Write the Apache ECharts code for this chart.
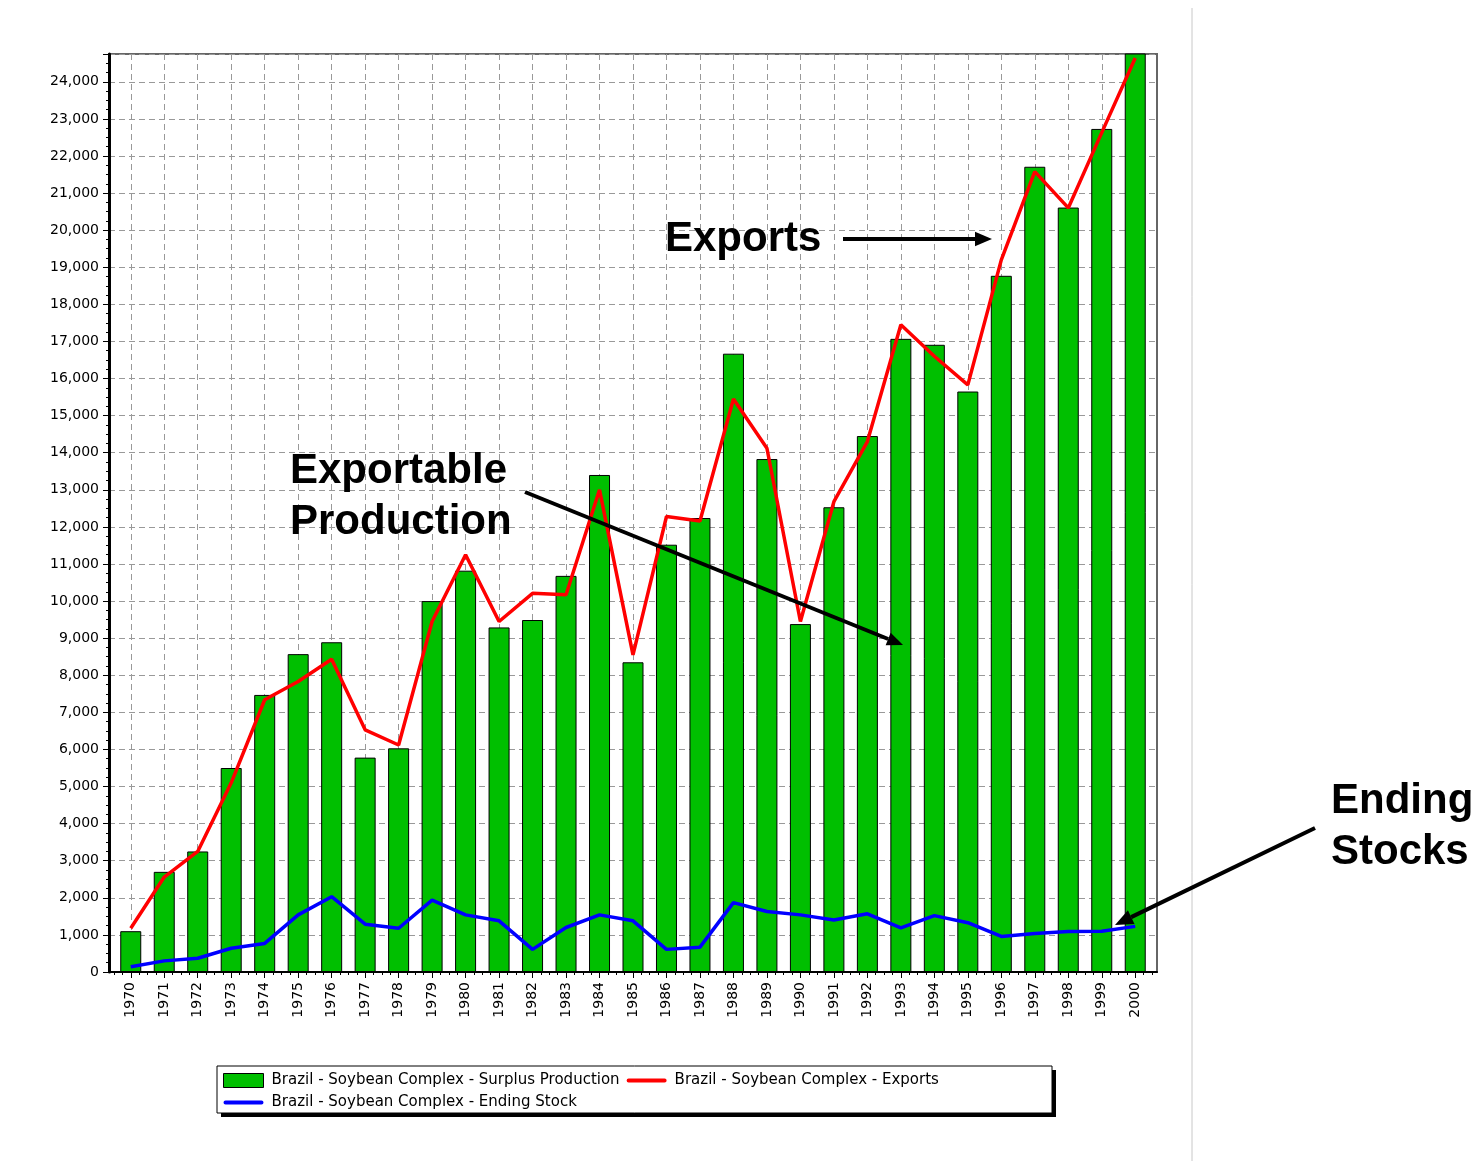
<!DOCTYPE html>
<html>
<head>
<meta charset="utf-8">
<title>Brazil - Soybean Complex</title>
<script src="https://cdn.jsdelivr.net/npm/echarts@6/dist/echarts.min.js"></script>
<style>
html, body { margin: 0; padding: 0; background: #fff; }
#chart { width: 1481px; height: 1161px; }
</style>
</head>
<body>
<div id="chart"></div>
<script>
// data (thousand tonnes)
var years = [1970, 1971, 1972, 1973, 1974, 1975, 1976, 1977, 1978, 1979,
  1980, 1981, 1982, 1983, 1984, 1985, 1986, 1987, 1988, 1989,
  1990, 1991, 1992, 1993, 1994, 1995, 1996, 1997, 1998, 1999, 2000];
var surplusProduction = [1100, 2700, 3250, 5500, 7470, 8570, 8890, 5780, 6030, 10000,
  10820, 9290, 9490, 10680, 13400, 8350, 11520, 12240, 16670, 13830,
  9380, 12530, 14450, 17070, 16910, 15650, 18770, 21710, 20610, 22730, 25000];
var exportsData = [1180, 2560, 3250, 5100, 7340, 7830, 8430, 6530, 6120, 9450,
  11250, 9450, 10210, 10170, 13000, 8550, 12280, 12160, 15450, 14120,
  9450, 12680, 14300, 17450, 16600, 15830, 19200, 21580, 20600, 22630, 24640];
var endingStock = [140, 300, 370, 640, 770, 1540, 2030, 1290, 1180, 1940,
  1540, 1380, 610, 1200, 1540, 1380, 610, 670, 1870, 1630,
  1540, 1400, 1570, 1190, 1520, 1330, 960, 1040, 1090, 1100, 1230];
var seriesNames = [
  "Brazil - Soybean Complex - Surplus Production",
  "Brazil - Soybean Complex - Exports",
  "Brazil - Soybean Complex - Ending Stock"
];

function pairs(vals) {
  return years.map(function (y, i) { return [y, vals[i]]; });
}

// small ticks every quarter year along the bottom axis
var quarterTicks = [];
years.forEach(function (y) {
  quarterTicks.push(y - 0.5, y - 0.25, y + 0.25);
});
quarterTicks.push(2000.5);

// 箭头：直线 + 三角形
function arrow(x1, y1, x2, y2, w, head) {
  var ang = Math.atan2(y2 - y1, x2 - x1);
  var bx = x2 - head * Math.cos(ang), by = y2 - head * Math.sin(ang);
  var px = Math.sin(ang) * head * 0.42, py = -Math.cos(ang) * head * 0.42;
  return [
    { type: "line", z: 100, shape: { x1: x1, y1: y1, x2: bx, y2: by },
      style: { stroke: "#000", lineWidth: w } },
    { type: "polygon", z: 100, shape: { points: [[x2, y2], [bx + px, by + py], [bx - px, by - py]] },
      style: { fill: "#000" } }
  ];
}

function label(txt, x, y) {
  return { type: "text", z: 100, left: x, top: y,
    style: { text: txt, font: "bold 42px 'Liberation Sans', Arial", fill: "#000", lineHeight: 51 } };
}

// legend icon for the lines: a thick rounded stroke, no symbol
var lineIcon = "path://M0,0L0,14M2,5h36a2,2 0 0 1 0,4h-36a2,2 0 0 1 0,-4z";

var gridLine = { show: true, lineStyle: { color: "#999", type: [6, 4], width: 1 } };

var myChart = echarts.init(document.getElementById("chart"));
myChart.setOption({
  backgroundColor: "#fff",
  animation: false,
  textStyle: { fontFamily: "'DejaVu Sans', sans-serif" },
  grid: {
    left: 109, top: 54, width: 1048, height: 918,
    show: true, borderColor: "#666", borderWidth: 2
  },
  legend: {
    left: 218, top: 1068, width: 834,
    itemWidth: 40, itemHeight: 14, itemGap: 7,
    textStyle: { color: "#000", fontSize: 15, padding: [0, 0, 0, 3] },
    data: [
      { name: seriesNames[0], icon: "rect", itemStyle: { borderColor: "#000", borderWidth: 1 } },
      { name: seriesNames[1], icon: lineIcon, itemStyle: { color: "#ff0000", borderWidth: 0 } },
      { name: seriesNames[2], icon: lineIcon, itemStyle: { color: "#0000ff", borderWidth: 0 } }
    ]
  },
  xAxis: [
    {
      type: "value",
      min: 1969.35,
      max: 2000.65,
      axisLine: { lineStyle: { color: "#000", width: 2 } },
      axisTick: { show: true, customValues: years, length: 6, lineStyle: { color: "#000" } },
      axisLabel: {
        customValues: years, rotate: 90, margin: 10,
        color: "#000", fontSize: 14,
        formatter: function (v) { return String(v); }
      },
      splitLine: gridLine
    },
    {
      type: "value",
      position: "bottom",
      min: 1969.35,
      max: 2000.65,
      axisLine: { show: false },
      axisTick: { show: true, customValues: quarterTicks, length: 3, lineStyle: { color: "#000" } },
      axisLabel: { show: false },
      splitLine: { show: false }
    }
  ],
  yAxis: {
    type: "value",
    min: 0,
    max: 24750,
    interval: 1000,
    axisLine: { show: true, lineStyle: { color: "#000", width: 3 } },
    axisTick: { show: true, length: 6, lineStyle: { color: "#000" } },
    minorTick: { show: true, splitNumber: 4, length: 3, lineStyle: { color: "#000" } },
    axisLabel: {
      margin: 10, color: "#000", fontSize: 14, showMaxLabel: false,
      formatter: function (v) { return v % 1000 === 0 ? echarts.format.addCommas(v) : ""; }
    },
    splitLine: gridLine
  },
  series: [
    {
      name: seriesNames[0],
      type: "bar",
      barWidth: 21,
      data: pairs(surplusProduction),
      itemStyle: { color: "#00bf00", borderColor: "#000", borderWidth: 1 }
    },
    {
      name: seriesNames[1],
      type: "line",
      symbol: "none",
      data: pairs(exportsData),
      lineStyle: { color: "#ff0000", width: 3.5 },
      itemStyle: { color: "#ff0000" },
      z: 3
    },
    {
      name: seriesNames[2],
      type: "line",
      symbol: "none",
      data: pairs(endingStock),
      lineStyle: { color: "#0000ff", width: 3.5 },
      itemStyle: { color: "#0000ff" },
      z: 4
    }
  ],
  graphic: [].concat(
    [
      // page divider
      { type: "line", z: 1, shape: { x1: 1192, y1: 8, x2: 1192, y2: 1161 },
        style: { stroke: "#c8c8c8", lineWidth: 1 } },
      // legend box with shadow
      { type: "rect", z: 1, shape: { x: 221, y: 1070, width: 835, height: 47 },
        style: { fill: "#000" } },
      { type: "rect", z: 2, shape: { x: 217, y: 1066, width: 835, height: 47 },
        style: { fill: "#fff", stroke: "#000", lineWidth: 1 } },
      label("Exports", 665, 214),
      label("Exportable\nProduction", 290, 446),
      label("Ending\nStocks", 1331, 776)
    ],
    arrow(843, 239, 992, 239, 4, 17),
    arrow(525, 492, 903, 645, 4, 16),
    arrow(1315, 828, 1115, 925, 4, 18)
  )
});
</script>
</body>
</html>
